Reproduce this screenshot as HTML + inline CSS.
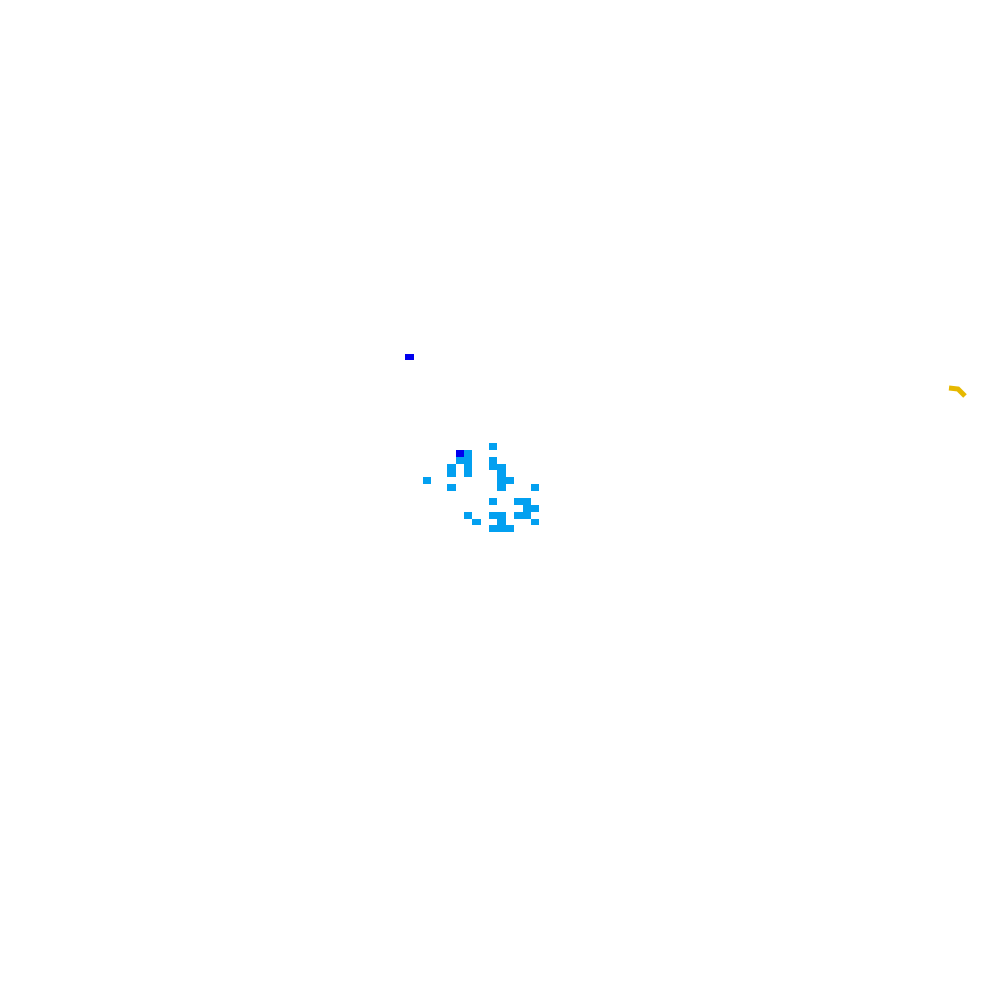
<!DOCTYPE html>
<html><head><meta charset="utf-8"><style>html,body{margin:0;padding:0;background:#fff;width:1000px;height:1000px;overflow:hidden}</style></head>
<body>
<svg width="1000" height="1000" xmlns="http://www.w3.org/2000/svg" shape-rendering="crispEdges">
<rect x="405" y="354" width="9" height="6" fill="#0000ee"/>
<g fill="#03a0f0">
<rect x="489" y="443" width="8" height="7"/>
<rect x="464" y="450" width="8" height="7"/>
<rect x="456" y="457" width="16" height="7"/>
<rect x="447" y="464" width="9" height="13"/>
<rect x="464" y="464" width="8" height="13"/>
<rect x="489" y="457" width="8" height="13"/>
<rect x="497" y="464" width="9" height="27"/>
<rect x="506" y="477" width="8" height="7"/>
<rect x="423" y="477" width="8" height="7"/>
<rect x="447" y="484" width="9" height="7"/>
<rect x="531" y="484" width="8" height="7"/>
<rect x="489" y="498" width="8" height="7"/>
<rect x="514" y="498" width="17" height="7"/>
<rect x="523" y="505" width="16" height="7"/>
<rect x="514" y="512" width="17" height="7"/>
<rect x="531" y="519" width="8" height="6"/>
<rect x="464" y="512" width="8" height="7"/>
<rect x="472" y="519" width="9" height="6"/>
<rect x="489" y="512" width="17" height="7"/>
<rect x="497" y="519" width="9" height="6"/>
<rect x="489" y="525" width="25" height="7"/>
</g>
<rect x="456" y="450" width="8" height="7" fill="#0000ee"/>
<polyline points="949,388 958,389 965,396" fill="none" stroke="#e6b800" stroke-width="5" shape-rendering="auto"/>
</svg>
</body></html>
